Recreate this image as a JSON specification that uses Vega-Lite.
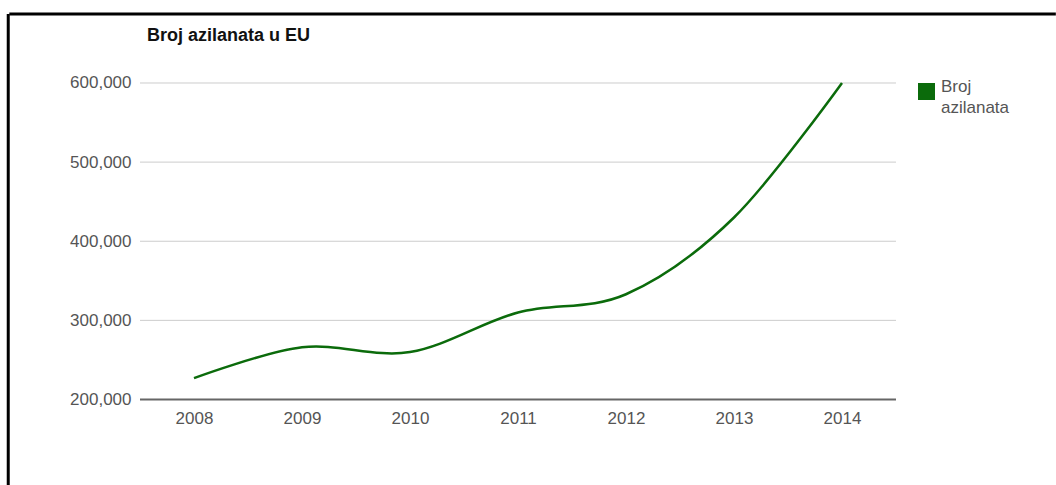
{
  "$schema": "https://vega.github.io/schema/vega-lite/v6.json",
  "autosize": "none",
  "padding": 0,
  "width": 1056,
  "height": 485,
  "background": "white",
  "config": {
    "view": {"stroke": null},
    "font": "Liberation Sans",
    "style": {"guide-label": {"lineHeight": 21}}
  },
  "title": {
    "text": "Broj azilanata u EU",
    "anchor": "start",
    "frame": "group",
    "dx": 147,
    "dy": 59,
    "offset": 0,
    "baseline": "alphabetic",
    "fontSize": 18,
    "fontWeight": "bold",
    "color": "#111111",
    "font": "Liberation Sans",
    "letterSpacing": 2.2
  },
  "datasets": {
    "asylum": [
      {"year": 2008, "count": 227000, "series": "Broj azilanata"},
      {"year": 2009, "count": 266000, "series": "Broj azilanata"},
      {"year": 2010, "count": 260000, "series": "Broj azilanata"},
      {"year": 2011, "count": 310000, "series": "Broj azilanata"},
      {"year": 2012, "count": 333000, "series": "Broj azilanata"},
      {"year": 2013, "count": 430000, "series": "Broj azilanata"},
      {"year": 2014, "count": 600000, "series": "Broj azilanata"}
    ],
    "grid": [
      {"level": 300000},
      {"level": 400000},
      {"level": 500000},
      {"level": 600000}
    ],
    "base": [{"level": 200000}],
    "frame": [{"edge": "top"}]
  },
  "layer": [
    {
      "data": {"name": "grid"},
      "mark": {"type": "rule", "color": "#cccccc", "strokeWidth": 1},
      "encoding": {
        "y": {"field": "level", "type": "quantitative", "scale": {"domain": [91943, 704897], "nice": false, "zero": false}},
        "x": {"datum": 2007.5, "type": "quantitative", "scale": {"domain": [2006.2037, 2015.9815], "nice": false, "zero": false}},
        "x2": {"datum": 2014.5}
      }
    },
    {
      "data": {"name": "base"},
      "mark": {"type": "rule", "color": "#666666", "strokeWidth": 2},
      "encoding": {
        "y": {"field": "level", "type": "quantitative"},
        "x": {"datum": 2007.5, "type": "quantitative"},
        "x2": {"datum": 2014.5}
      }
    },
    {
      "data": {"name": "asylum"},
      "mark": {"type": "line", "interpolate": "cardinal", "strokeWidth": 2.5},
      "encoding": {
        "x": {
          "field": "year",
          "type": "quantitative",
          "axis": {
            "orient": "bottom",
            "offset": -85.5,
            "title": null,
            "values": [2008, 2009, 2010, 2011, 2012, 2013, 2014],
            "format": "d",
            "domain": false,
            "ticks": false,
            "grid": false,
            "labelPadding": 11,
            "labelFontSize": 17,
            "labelColor": "#555555",
            "labelFont": "Liberation Sans",
            "labelLetterSpacing": 2.5
          }
        },
        "y": {
          "field": "count",
          "type": "quantitative",
          "axis": {
            "orient": "left",
            "offset": -140,
            "title": null,
            "values": [200000, 300000, 400000, 500000, 600000],
            "format": ",d",
            "domain": false,
            "ticks": false,
            "grid": false,
            "labelPadding": 9,
            "labelFontSize": 17,
            "labelColor": "#555555",
            "labelFont": "Liberation Sans",
            "labelLetterSpacing": 1
          }
        },
        "color": {
          "field": "series",
          "type": "nominal",
          "scale": {"range": ["#0b6b0b"]},
          "legend": {
            "title": null,
            "orient": "none",
            "legendX": 918,
            "legendY": 83,
            "symbolType": "square",
            "symbolSize": 289,
            "symbolStrokeWidth": 0,
            "symbolFillColor": "#0b6b0b",
            "labelExpr": "split(datum.label, ' ')",
            "labelBaseline": "alphabetic",
            "labelFontSize": 17,
            "labelColor": "#555555",
            "labelFont": "Liberation Sans",
            "labelOffset": 6
          }
        }
      }
    },
    {
      "data": {"name": "frame"},
      "mark": {"type": "rule", "color": "#000000", "strokeWidth": 3},
      "encoding": {
        "y": {"datum": 687204, "type": "quantitative"},
        "x": {"datum": 2006.29, "type": "quantitative"},
        "x2": {"datum": 2015.98}
      }
    },
    {
      "data": {"name": "frame"},
      "mark": {"type": "rule", "color": "#000000", "strokeWidth": 3},
      "encoding": {
        "x": {"datum": 2006.28, "type": "quantitative"},
        "y": {"datum": 687204, "type": "quantitative"},
        "y2": {"datum": 91943}
      }
    }
  ]
}
